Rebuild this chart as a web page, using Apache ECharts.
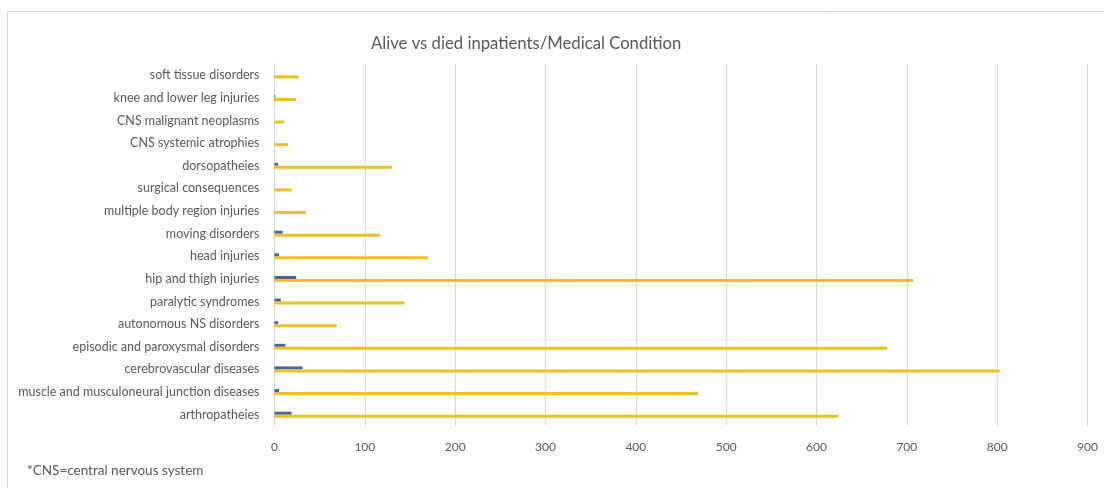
<!DOCTYPE html>
<html>
<head>
<meta charset="utf-8">
<script src="https://cdn.jsdelivr.net/npm/echarts@6/dist/echarts.min.js"></script>
<style>
  html, body { margin: 0; padding: 0; background: #ffffff; }
  #chart { width: 1104px; height: 488px; }
</style>
</head>
<body>
<div id="chart"></div>
<script>
// Conditions, listed bottom to top as they appear on the vertical axis
const conditions = [
  'arthropatheies',
  'muscle and musculoneural junction diseases',
  'cerebrovascular diseases',
  'episodic and paroxysmal disorders',
  'autonomous NS disorders',
  'paralytic syndromes',
  'hip and thigh injuries',
  'head injuries',
  'moving disorders',
  'multiple body region injuries',
  'surgical consequences',
  'dorsopatheies',
  'CNS systemic atrophies',
  'CNS malignant neoplasms',
  'knee and lower leg injuries',
  'soft tissue disorders'
];

// Inpatients discharged alive
const alive = [624, 469, 803, 678, 69, 144, 707, 170, 117, 35, 19, 130, 15, 11, 24, 27];

// Inpatients who died
const died = [19, 5, 31, 12, 4, 7, 24, 5, 9, 0, 0, 4, 0, 0, 1, 0];

const xTicks = { min: 0, max: 900, interval: 100 };

const chart = echarts.init(document.getElementById('chart'), null, { renderer: 'canvas' });

const textColor = '#595959';
const fontFamily = 'Lato, "Open Sans", sans-serif';

chart.setOption({
  backgroundColor: '#ffffff',
  animation: false,
  title: {
    text: 'Alive vs died inpatients/Medical Condition',
    left: 366,
    top: 30,
    textStyle: { color: textColor, fontFamily: fontFamily, fontSize: 16.7, fontWeight: 'normal' }
  },
  graphic: [
    {
      type: 'rect',
      shape: { x: 7.5, y: 11.5, width: 1120, height: 500 },
      style: { fill: 'none', stroke: '#d9d9d9', lineWidth: 1 },
      silent: true
    },
    {
      type: 'text',
      left: 27,
      top: 464,
      style: { text: '*CNS=central nervous system', fill: textColor, font: '13.5px ' + fontFamily }
    }
  ],
  grid: { left: 274.5, right: 16.5, top: 64, bottom: 62, containLabel: false },
  xAxis: {
    type: 'value',
    min: xTicks.min,
    max: xTicks.max,
    interval: xTicks.interval,
    axisLine: { show: false },
    axisTick: { show: false },
    axisLabel: { color: textColor, fontFamily: fontFamily, fontSize: 12, margin: 15 },
    splitLine: { show: true, lineStyle: { color: '#d9d9d9', width: 1 } }
  },
  yAxis: {
    type: 'category',
    data: conditions,
    axisLine: { show: true, lineStyle: { color: '#d9d9d9' } },
    axisTick: { show: false },
    axisLabel: {
      color: textColor,
      fontFamily: fontFamily,
      fontSize: 12.5,
      margin: 15,
      padding: [6, 0, 0, 0]
    },
    splitLine: { show: false }
  },
  series: [
    {
      name: 'died',
      type: 'bar',
      data: died,
      barWidth: 3,
      barGap: '0%',
      itemStyle: { color: '#46649a' }
    },
    {
      name: 'alive',
      type: 'bar',
      data: alive,
      barWidth: 3,
      barGap: '0%',
      itemStyle: { color: '#efbf24' }
    }
  ]
});
</script>
</body>
</html>
